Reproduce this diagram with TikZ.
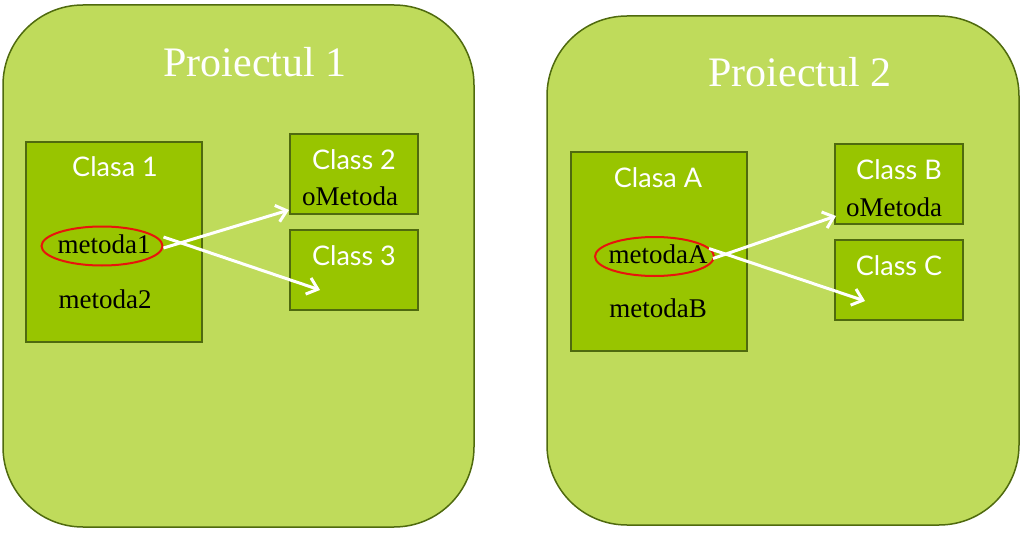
\documentclass[tikz,border=0pt]{standalone}
\usepackage{fontspec}
\setmainfont{Liberation Serif}
\newfontfamily\gillfont{Lato}
\usetikzlibrary{arrows.meta,shapes.geometric}
\definecolor{outerfill}{HTML}{BFDB5B}
\definecolor{innerfill}{HTML}{98C500}
\definecolor{borderc}{HTML}{4F6A0E}
\definecolor{ellred}{HTML}{E8140C}
\tikzset{
  project/.style={draw=borderc, line width=1.5pt, fill=outerfill, rounded corners=80pt, inner sep=0pt},
  classbox/.style={draw=borderc, line width=1.5pt, fill=innerfill, inner sep=0pt},
  ptitle/.style={text=white, font=\fontsize{42}{46}\selectfont, inner sep=0pt},
  ctitle/.style={text=white, font=\gillfont\fontsize{27}{30}\selectfont, inner sep=0pt},
  meth/.style={text=black, font=\fontsize{27}{30}\selectfont, inner sep=0pt},
  sel/.style={draw=ellred, line width=2pt, ellipse, inner sep=0pt},
  call/.style={draw=white, line width=3pt, -{Straight Barb[length=10pt,width=17pt,line width=3pt]}}
}
\begin{document}
\begin{tikzpicture}[x=1pt,y=-1pt]
\useasboundingbox (0,0) rectangle (1029,535);
% projects
\draw[project] (3,5) rectangle (474,527);
\draw[project] (547,16) rectangle (1019,525);
\node[ptitle] (p1) at (255,62) {Proiectul 1};
\node[ptitle] (p2) at (800,72) {Proiectul 2};
% project 1 boxes
\node[classbox, minimum width=176pt, minimum height=200pt] (c1) at (114,242) {};
\node[classbox, minimum width=128pt, minimum height=80pt] (c2) at (354,174) {};
\node[classbox, minimum width=128pt, minimum height=80pt] (c3) at (354,270) {};
\node[ctitle] (c1t) at (115,167) {Clasa 1};
\node[ctitle] (c2t) at (354,160) {Class 2};
\node[meth] (c2m) at (350,196) {oMetoda};
\node[ctitle] (c3t) at (354,256) {Class 3};
\node[sel, minimum width=121pt, minimum height=39pt] (e1) at (102,246) {};
\node[meth] (m1) at (104,244) {metoda1};
\node[meth] (m2) at (105,299) {metoda2};
\coordinate (t12) at (289,210);
\coordinate (t13) at (320,290);
\draw[call] ([yshift=-2pt]e1.east) -- (t12);
\draw[call] ([yshift=9pt]e1.east) -- (t13);
% project 2 boxes
\node[classbox, minimum width=176pt, minimum height=199pt] (ca) at (659,251.5) {};
\node[classbox, minimum width=128pt, minimum height=80pt] (cb) at (899,184) {};
\node[classbox, minimum width=128pt, minimum height=80pt] (cc) at (899,280) {};
\node[ctitle] (cat) at (658,178) {Clasa A};
\node[ctitle] (cbt) at (899,170) {Class B};
\node[meth] (cbm) at (894,207) {oMetoda};
\node[ctitle] (cct) at (899,266) {Class C};
\node[sel, minimum width=119pt, minimum height=39pt] (ea) at (654.5,256.5) {};
\node[meth] (ma) at (658,254) {metodaA};
\node[meth] (mb) at (658,308) {metodaB};
\coordinate (tab) at (836,216);
\coordinate (tac) at (865,301);
\draw[call] ([xshift=-2pt,yshift=-2pt]ea.east) -- (tab);
\draw[call] ([xshift=-6pt,yshift=8pt]ea.east) -- (tac);
\end{tikzpicture}
\end{document}
